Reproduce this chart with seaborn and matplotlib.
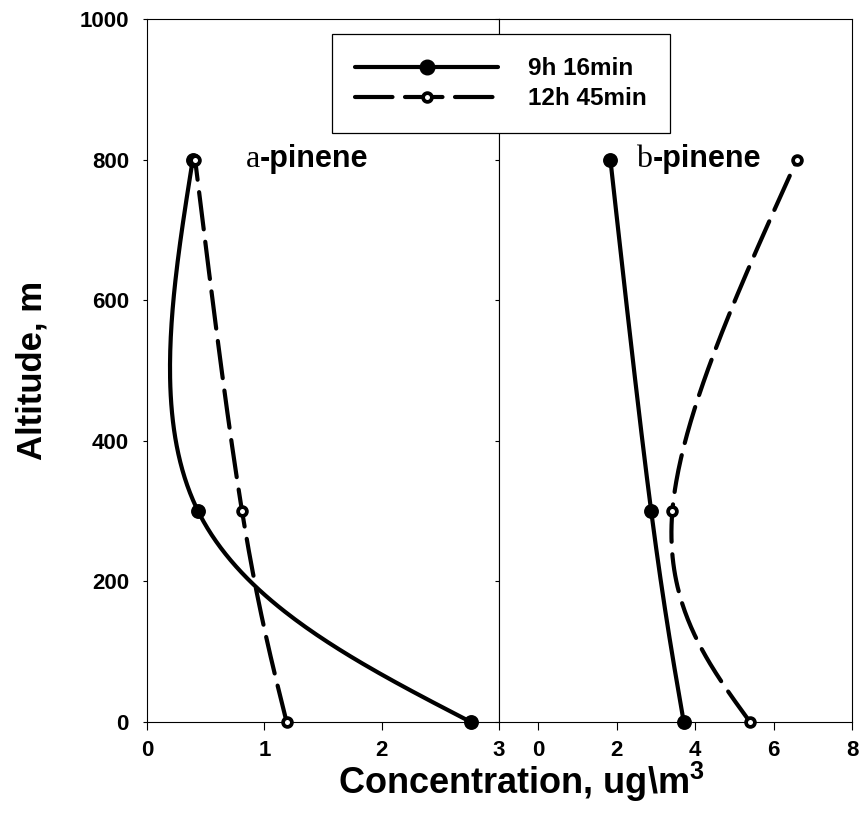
import numpy as np
import matplotlib
matplotlib.use("Agg")
import matplotlib.pyplot as plt
from matplotlib.lines import Line2D
import seaborn as sns

# data
altitude = [0, 300, 800]
alpha_9h16 = [2.76, 0.435, 0.39]
alpha_12h45 = [1.19, 0.81, 0.41]
beta_9h16 = [3.71, 2.88, 1.84]
beta_12h45 = [5.40, 3.42, 6.60]
series_labels = ["9h 16min", "12h 45min"]
panel_letters = ["a", "b"]
x_limits = [(0, 3), (-1, 8)]
x_ticks = [[0, 1, 2, 3], [0, 2, 4, 6, 8]]
y_ticks = [0, 200, 400, 600, 800, 1000]


def smooth(values, n=80):
    # natural cubic spline on a uniform parameter, like the spline option
    # of the original plotting program
    v = np.asarray(values, dtype=float)
    k = len(v)
    A = np.zeros((k, k))
    rhs = np.zeros(k)
    A[0, 0] = A[-1, -1] = 1
    for i in range(1, k - 1):
        A[i, i - 1:i + 2] = [1, 4, 1]
        rhs[i] = 6 * (v[i + 1] - 2 * v[i] + v[i - 1])
    M = np.linalg.solve(A, rhs)
    parts = []
    for i in range(k - 1):
        t = np.linspace(0, 1, n, endpoint=(i == k - 2))
        parts.append(M[i] * (1 - t) ** 3 / 6 + M[i + 1] * t ** 3 / 6
                     + (v[i] - M[i] / 6) * (1 - t) + (v[i + 1] - M[i + 1] / 6) * t)
    return np.concatenate(parts)


sns.set_style("ticks")
plt.rcParams["font.family"] = ["Liberation Sans", "DejaVu Sans"]
plt.rcParams["font.weight"] = "bold"
plt.rcParams["text.color"] = "black"
plt.rcParams["axes.labelcolor"] = "black"
plt.rcParams["mathtext.fontset"] = "custom"
plt.rcParams["mathtext.bf"] = "Liberation Sans:bold"
plt.rcParams["axes.linewidth"] = 0.8
plt.rcParams["axes.edgecolor"] = "black"

fig = plt.figure(figsize=(8.59, 8.22), dpi=100)
ax_a = fig.add_axes([147 / 859, 1 - 722 / 822, 352 / 859, 703 / 822])
ax_b = fig.add_axes([499 / 859, 1 - 722 / 822, 353 / 859, 703 / 822])

dash = (0, (9, 3))
panels = [(ax_a, alpha_9h16, alpha_12h45), (ax_b, beta_9h16, beta_12h45)]
for idx, (ax, early, late) in enumerate(panels):
    sns.lineplot(x=smooth(early), y=smooth(altitude), sort=False, estimator=None,
                 ax=ax, color="black", lw=3, solid_capstyle="round", clip_on=False)
    sns.lineplot(x=smooth(late), y=smooth(altitude), sort=False, estimator=None,
                 ax=ax, color="black", lw=3, linestyle=dash,
                 dash_capstyle="round", clip_on=False)
    sns.scatterplot(x=early, y=altitude, ax=ax, color="black", s=115,
                    linewidth=0, zorder=4, clip_on=False)
    sns.scatterplot(x=late, y=altitude, ax=ax, color="white", edgecolor="black",
                    s=40, linewidth=2.7, zorder=5, clip_on=False)

    ax.set_xlim(*x_limits[idx])
    ax.set_ylim(0, 1000)
    ax.set_xticks(x_ticks[idx])
    ax.set_yticks(y_ticks)
    ax.set_xlabel("")
    ax.set_ylabel("")
    ax.tick_params(axis="x", direction="out", length=6, width=0.8, pad=7,
                   labelsize=16, colors="black")
    ax.tick_params(axis="y", direction="out", length=3, width=0.8, pad=10,
                   labelsize=16, colors="black")
    for lab in ax.get_xticklabels() + ax.get_yticklabels():
        lab.set_fontweight("bold")

    # panel name: greek letter shown in a serif face, then "-pinene"
    first = ax.text([0.84, 2.5][idx], 800, panel_letters[idx],
                    family="Liberation Serif", fontweight="normal",
                    fontsize=23, va="center", ha="left", color="black")
    ax.annotate("-pinene", xy=(1, 0), xycoords=first, va="bottom", ha="left",
                fontsize=22, fontweight="bold", color="black")

ax_b.tick_params(axis="y", labelleft=False)

fig.text(32 / 859, 1 - 370 / 822, "Altitude, m", rotation=90, color="black",
         ha="center", va="center", fontsize=25, fontweight="bold")
fig.text(521 / 859, 1 - 782 / 822, r"Concentration, ug\m$^{\mathbf{3}}$",
         ha="center", va="center", fontsize=26, fontweight="bold", color="black")

handles = [
    Line2D([], [], color="black", lw=3, marker="o", ms=10.5, mfc="black",
           mec="black", solid_capstyle="round"),
    Line2D([], [], color="black", lw=3, linestyle=dash, marker="o", ms=6.3,
           mfc="white", mec="black", mew=2.7, dash_capstyle="round"),
]
leg = fig.legend(handles, series_labels, loc="upper left",
                 bbox_to_anchor=(332 / 859, 1 - 34 / 822), borderaxespad=0,
                 numpoints=1, handlelength=5.9, handletextpad=1.2,
                 borderpad=0.95, labelspacing=0.3, fancybox=False,
                 prop={"size": 17.5, "weight": "bold"})
leg.get_frame().set_edgecolor("black")
leg.get_frame().set_linewidth(0.9)
leg.get_frame().set_alpha(1)
for txt in leg.get_texts():
    txt.set_color("black")

fig.savefig("out.png", dpi=100)
